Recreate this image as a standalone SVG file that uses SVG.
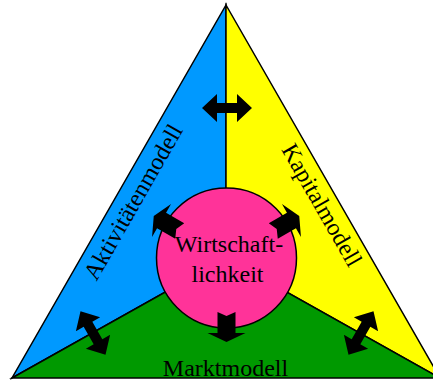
<svg xmlns="http://www.w3.org/2000/svg" width="433" height="380" viewBox="0 0 433 380">
<style>
.reg{stroke:#000;stroke-width:1.5;stroke-linejoin:miter}
.lbl{font-family:"Liberation Serif","Times New Roman",serif;font-size:24px;fill:#000}
.arr{fill:#000}
</style>
<defs>
<path id="dbl" d="M-25,0 L-10,-14 L-10,-5 L10,-5 L10,-14 L25,0 L10,14 L10,5 L-10,5 L-10,14 Z"/>
<path id="sgl" d="M54,-9 L75,-9 L75,-19 L84,0 L75,19 L75,9 L54,9 L58,0 Z"/>
</defs>
<rect width="433" height="380" fill="#fff"/>
<g id="aktivitaetenmodell">
<polygon class="reg" fill="#0099FF" points="226,5 226,258 12,378"/>
<text class="lbl" text-anchor="middle" transform="translate(140,206) rotate(-60.2)">Aktivitätenmodell</text>
</g>
<g id="kapitalmodell">
<polygon class="reg" fill="#FFFF00" points="226,5 440,378 226,258"/>
<text class="lbl" text-anchor="middle" transform="translate(315,209) rotate(60.2)">Kapitalmodell</text>
</g>
<g id="marktmodell">
<polygon class="reg" fill="#009900" points="12,378 226,258 440,378"/>
<text class="lbl" text-anchor="middle" x="225.5" y="376">Marktmodell</text>
</g>
<g id="wirtschaftlichkeit">
<circle class="reg" fill="#FF3399" cx="226.5" cy="258" r="70"/>
<text class="lbl" text-anchor="middle" x="229" y="252">Wirtschaft-</text>
<text class="lbl" text-anchor="middle" x="227.5" y="282">lichkeit</text>
</g>
<g id="connectors" class="arr">
<use href="#dbl" transform="translate(227,108)"/>
<use href="#dbl" transform="translate(93,333) rotate(60)"/>
<use href="#dbl" transform="translate(361,333) rotate(-60)"/>
<use href="#sgl" transform="translate(226.5,258) rotate(90)"/>
<use href="#sgl" transform="translate(226.5,258) rotate(210)"/>
<use href="#sgl" transform="translate(226.5,258) rotate(-30)"/>
</g>
</svg>
